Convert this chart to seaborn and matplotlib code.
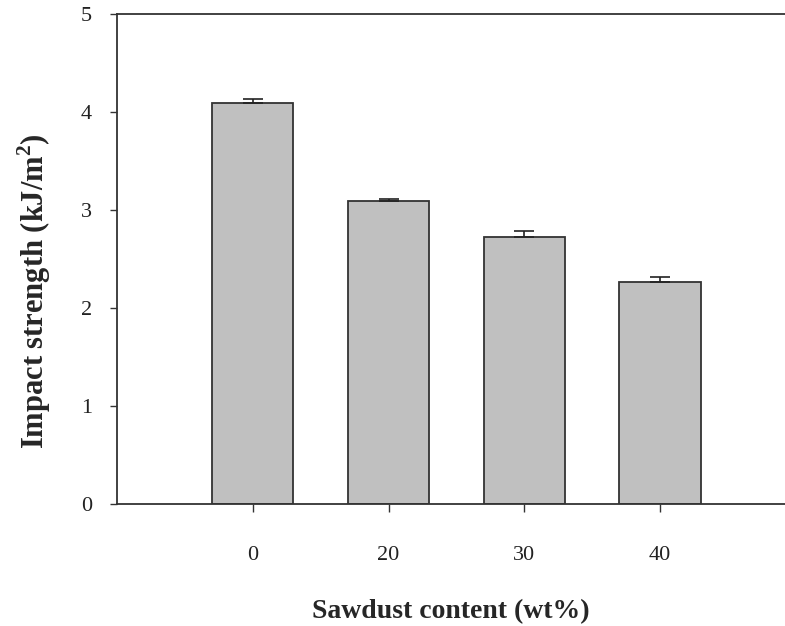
import matplotlib
matplotlib.use("Agg")
import matplotlib.pyplot as plt
import seaborn as sns
import pandas as pd
import numpy as np

categories = ["0", "20", "30", "40"]
impact = [4.09, 3.095, 2.72, 2.27]
err = [0.04, 0.02, 0.07, 0.05]

sns.set_style("ticks")
plt.rcParams['font.family'] = ['Liberation Serif', 'DejaVu Serif']
plt.rcParams['mathtext.fontset'] = 'custom'
plt.rcParams['mathtext.rm'] = 'Liberation Serif:bold'
plt.rcParams['mathtext.bf'] = 'Liberation Serif:bold'

df = pd.DataFrame({"content": categories, "impact": impact})

fig = plt.figure(figsize=(7.85, 6.26), dpi=100)
ax = fig.add_axes([0.149, 0.195, 0.851, 0.7826])

sns.barplot(data=df, x="content", y="impact", color="#c0c0c0", saturation=1,
            edgecolor="#333333", linewidth=1.3, width=0.6, ax=ax, errorbar=None)
x = np.arange(len(categories))
ax.errorbar(x, impact, yerr=[np.zeros(len(err)), err], fmt="none",
            ecolor="#222222", elinewidth=1.2, capsize=7, capthick=1.2)

ax.set_xlim(-1.0, 3.92)
ax.set_ylim(0, 5)
ax.set_yticks([0, 1, 2, 3, 4, 5])
ax.tick_params(axis="both", labelsize=16, direction="out", length=5, width=1.0,
               colors="#333333", labelcolor="#222222")
ax.tick_params(axis="y", pad=13)
ax.tick_params(axis="x", pad=24, length=6)
ax.set_xlabel("Sawdust content (wt%)", fontsize=20, fontweight="bold", labelpad=25)
ax.set_ylabel("Impact strength (kJ/m$^{2}$)", fontsize=22, fontweight="bold")
ax.yaxis.set_label_coords(-0.096, 0.435)
for s in ["left", "top", "bottom"]:
    ax.spines[s].set_visible(True)
    ax.spines[s].set_color("#333333")
    ax.spines[s].set_linewidth(1.3)
ax.spines["right"].set_visible(False)

fig.savefig("out.png", dpi=100)
